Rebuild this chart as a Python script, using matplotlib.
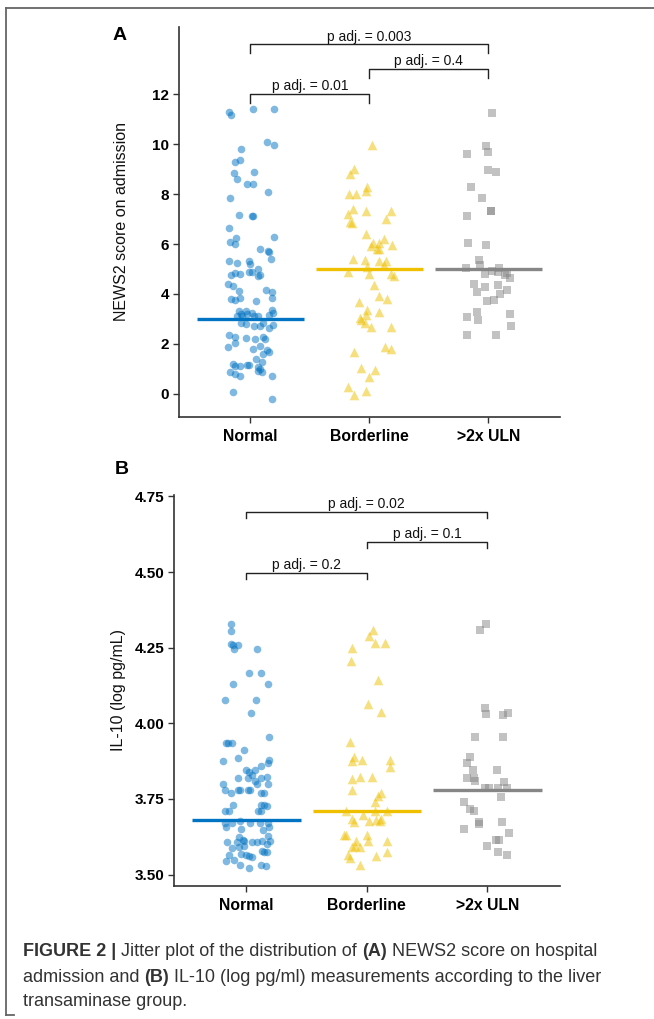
import matplotlib
matplotlib.use("Agg")
import matplotlib.pyplot as plt
from matplotlib.lines import Line2D

plt.rcParams["font.family"] = ["Liberation Sans", "DejaVu Sans"]

groups = ["Normal", "Borderline", ">2x ULN"]
colors = ["#0073C2", "#EFC000", "#868686"]
markers = ["o", "^", "s"]

# --- panel A: NEWS2 score on admission ---
news_normal = [11.27, 11.17, 11.39, 11.39, 10.07, 9.97, 9.81, 9.35, 9.27, 8.84, 8.86, 8.61, 8.4, 8.4,
               8.08, 7.83, 7.15, 7.12, 7.11, 6.64, 6.23, 6.07, 5.99, 6.27, 5.79, 5.71, 5.67, 5.39,
               5.31, 5.25, 5.33, 5.19, 4.99, 4.87, 4.89, 4.75, 4.72, 4.84, 4.81, 4.75, 4.41, 4.31,
               4.16, 4.07, 4.13, 3.81, 3.76, 3.84, 3.85, 3.73, 3.36, 3.25, 3.16, 3.3, 3.3, 3.25,
               3.2, 3.2, 3.1, 3.1, 3.1, 3.1, 2.83, 2.8, 2.72, 2.72, 2.83, 2.64, 2.76, 2.37, 2.28,
               1.89, 2.04, 2.24, 2.21, 2.28, 2.19, 1.81, 1.92, 1.76, 1.6, 1.67, 1.39, 1.29, 1.2,
               1.12, 1.13, 1.16, 1.16, 1.09, 1.01, 0.87, 0.81, 0.72, 0.92, 0.88, 0.73, 0.08, -0.2]
news_normal_jit = [-0.18, -0.16, 0.02, 0.20, 0.14, 0.20, -0.08, -0.09, -0.13, -0.14, 0.03, -0.11,
                   -0.03, 0.02, 0.15, -0.17, -0.10, 0.01, 0.02, -0.18, -0.12, -0.17, -0.13, 0.20,
                   0.08, 0.15, 0.16, 0.17, -0.18, -0.11, -0.01, 0.00, 0.06, -0.01, 0.01, 0.08,
                   0.06, -0.13, -0.09, -0.16, -0.19, -0.15, 0.13, 0.18, -0.10, -0.16, -0.13,
                   -0.09, 0.18, 0.05, 0.18, 0.19, 0.16, -0.10, -0.04, 0.01, -0.08, -0.03, 0.06,
                   -0.07, -0.11, 0.03, -0.08, -0.04, 0.03, 0.08, 0.11, 0.16, 0.19, -0.18, -0.13,
                   -0.19, -0.13, -0.04, 0.04, 0.11, 0.12, 0.02, 0.08, 0.14, 0.11, 0.16, 0.05,
                   0.10, -0.15, -0.13, -0.09, -0.03, -0.01, 0.06, 0.08, -0.17, -0.13, -0.09,
                   0.06, 0.10, 0.18, -0.15, 0.18]
news_border = [9.96, 8.99, 8.79, 8.29, 8.13, 8.01, 8.01, 7.41, 7.2, 6.88, 6.84, 7.31, 7.31, 7.0,
               6.41, 6.21, 6.05, 6.03, 5.93, 5.8, 5.79, 5.95, 5.39, 5.36, 5.33, 5.32, 5.07, 5.15,
               4.87, 4.79, 4.79, 4.73, 4.36, 3.92, 3.79, 3.69, 3.35, 3.29, 3.16, 3.05, 2.95, 2.83,
               2.67, 2.69, 1.69, 1.87, 1.8, 1.05, 0.96, 0.69, 0.27, -0.04, 0.12]
news_border_jit = [0.02, -0.13, -0.16, -0.02, -0.03, -0.17, -0.11, -0.14, -0.18, -0.16, -0.15,
                   -0.03, 0.18, 0.14, -0.03, 0.12, 0.03, 0.08, 0.01, 0.06, 0.08, 0.19, -0.14,
                   -0.04, 0.08, 0.14, -0.02, 0.12, -0.18, 0.0, 0.18, 0.21, 0.04, 0.08, 0.15,
                   -0.09, -0.02, 0.08, -0.03, -0.08, -0.07, -0.04, 0.01, 0.18, -0.13, 0.13, 0.18,
                   -0.07, 0.05, 0.0, -0.18, -0.13, -0.03]
news_uln = [11.24, 9.93, 9.68, 9.61, 8.97, 8.87, 8.27, 7.84, 7.33, 7.33, 7.11, 6.05, 5.97, 5.36,
            5.15, 5.05, 5.03, 4.93, 4.81, 4.89, 4.85, 4.76, 4.63, 4.41, 4.28, 4.35, 4.07, 4.16,
            4.0, 3.71, 3.75, 3.28, 3.08, 2.96, 3.19, 2.72, 2.35, 2.35]
news_uln_jit = [0.03, -0.02, 0.0, -0.18, 0.0, 0.06, -0.15, -0.05, 0.02, 0.02, -0.18, -0.17, -0.02,
                -0.08, -0.07, -0.19, 0.09, 0.03, -0.03, 0.08, 0.16, 0.14, 0.18, -0.12, -0.03,
                0.08, -0.10, 0.16, 0.10, -0.01, 0.05, -0.10, -0.18, -0.09, 0.18, 0.19, -0.18, 0.06]
news_centre = [3, 5, 5]
news_ticks = [0, 2, 4, 6, 8, 10, 12]
news_pairs = [(1, 3, "p adj. = 0.003"), (2, 3, "p adj. = 0.4"), (1, 2, "p adj. = 0.01")]
news_bracket_y = [13.99, 13.0, 12.0]

# --- panel B: IL-10 ---
il_normal = [4.328, 4.305, 4.262, 4.26, 4.246, 4.26, 4.246, 4.166, 4.165, 4.13, 4.13, 4.077, 4.077,
             4.034, 3.934, 3.934, 3.934, 3.954, 3.91, 3.876, 3.886, 3.88, 3.87, 3.858, 3.845, 3.84,
             3.845, 3.83, 3.80, 3.82, 3.818, 3.82, 3.81, 3.824, 3.80, 3.80, 3.78, 3.77, 3.78, 3.78,
             3.78, 3.78, 3.77, 3.77, 3.71, 3.71, 3.73, 3.73, 3.73, 3.727, 3.71, 3.71, 3.671, 3.671,
             3.657, 3.676, 3.671, 3.671, 3.671, 3.657, 3.651, 3.648, 3.608, 3.608, 3.624, 3.615,
             3.61, 3.608, 3.606, 3.61, 3.628, 3.61, 3.60, 3.586, 3.59, 3.594, 3.578, 3.574, 3.574,
             3.569, 3.563, 3.56, 3.557, 3.566, 3.545, 3.547, 3.53, 3.523, 3.53, 3.527]
il_normal_jit = [-0.13, -0.13, -0.13, -0.11, -0.10, -0.07, 0.09, 0.02, 0.12, -0.11, 0.18, -0.18,
                 0.08, 0.04, -0.17, -0.15, -0.12, 0.19, -0.02, -0.19, -0.07, 0.19, 0.18, 0.12,
                 0.0, 0.02, 0.07, 0.05, -0.19, -0.07, 0.01, 0.12, 0.07, 0.17, 0.18, 0.09, -0.18,
                 -0.13, -0.07, -0.05, 0.01, 0.03, 0.12, 0.15, -0.18, -0.14, -0.11, 0.12, 0.15,
                 0.17, 0.10, 0.12, -0.18, -0.12, -0.17, -0.05, 0.03, 0.11, 0.18, 0.19, -0.04,
                 0.14, -0.16, -0.08, -0.06, -0.03, -0.02, 0.05, 0.09, 0.13, 0.18, 0.20, 0.17,
                 -0.12, -0.06, -0.02, 0.13, 0.15, 0.17, -0.04, 0.0, 0.02, 0.05, -0.14, -0.17,
                 -0.10, -0.05, 0.02, 0.12, 0.16]
il_border = [4.307, 4.29, 4.265, 4.265, 4.248, 4.205, 4.143, 4.064, 4.037, 3.938, 3.89, 3.876,
             3.88, 3.877, 3.854, 3.815, 3.823, 3.823, 3.78, 3.76, 3.77, 3.74, 3.71, 3.71, 3.71,
             3.698, 3.683, 3.674, 3.677, 3.68, 3.683, 3.677, 3.63, 3.63, 3.63, 3.61, 3.594, 3.59,
             3.59, 3.61, 3.61, 3.566, 3.555, 3.56, 3.576, 3.533]
il_border_jit = [0.05, 0.02, 0.07, 0.15, -0.12, -0.13, 0.09, 0.01, 0.12, -0.14, -0.11, -0.12,
                 -0.04, 0.19, 0.19, -0.12, -0.06, 0.04, -0.12, 0.09, 0.12, 0.07, -0.17, 0.07, 0.17,
                 -0.03, -0.12, -0.11, 0.02, 0.08, 0.12, 0.11, -0.19, -0.17, 0.0, -0.09, -0.10,
                 -0.12, -0.06, 0.01, 0.17, -0.16, -0.14, 0.08, 0.17, -0.06]
il_uln = [4.327, 4.307, 4.05, 4.03, 4.035, 4.027, 3.955, 3.955, 3.887, 3.867, 3.846, 3.846, 3.82,
          3.82, 3.81, 3.805, 3.785, 3.785, 3.785, 3.785, 3.757, 3.739, 3.716, 3.71, 3.668, 3.672,
          3.672, 3.65, 3.636, 3.613, 3.613, 3.593, 3.576, 3.565]
il_uln_jit = [-0.01, -0.06, -0.02, -0.01, 0.17, 0.13, -0.10, 0.13, -0.14, -0.17, -0.12, 0.08,
              -0.17, -0.11, -0.10, 0.14, -0.02, 0.01, 0.09, 0.16, 0.11, -0.19, -0.14, -0.11,
              -0.07, -0.07, 0.12, -0.19, 0.18, 0.07, 0.10, 0.0, 0.09, 0.16]
il_centre = [3.68, 3.71, 3.78]
il_ticks = [3.50, 3.75, 4.00, 4.25, 4.50, 4.75]
il_pairs = [(1, 3, "p adj. = 0.02"), (2, 3, "p adj. = 0.1"), (1, 2, "p adj. = 0.2")]
il_bracket_y = [4.699, 4.60, 4.498]

W, H = 654, 1019
fig = plt.figure(figsize=(W / 100, H / 100), dpi=100)
fig.patch.set_facecolor("white")


def px_axes(left, top, right, bottom):
    return fig.add_axes([left / W, 1 - bottom / H, (right - left) / W, (bottom - top) / H])


def jitter_panel(ax, values, jits, centres, ticks, tick_fmt, pairs, bracket_y, tip, ylim, ylabel):
    for i, (vals, jit) in enumerate(zip(values, jits)):
        xs = [i + 1 + j for j in jit]
        size = {"o": 30, "^": 48, "s": 30}[markers[i]]
        ax.scatter(xs, vals, s=size, marker=markers[i], color=colors[i], alpha=0.5,
                   linewidths=0, zorder=2)
        ax.plot([i + 1 - 0.45, i + 1 + 0.45], [centres[i], centres[i]], color=colors[i],
                lw=2.4, solid_capstyle="butt", zorder=3)
    for (a, b, lab), y in zip(pairs, bracket_y):
        ax.plot([a, a, b, b], [y - tip, y, y, y - tip], color="#222222", lw=1.0,
                clip_on=False, zorder=4)
        ax.annotate(lab, ((a + b) / 2, y), xytext=(0, 0.5), textcoords="offset points",
                    ha="center", va="bottom", fontsize=10, color="#111111")
    ax.set_xlim(0.4, 3.6)
    ax.set_ylim(*ylim)
    ax.set_xticks([1, 2, 3])
    ax.set_xticklabels(groups, fontsize=11.3, fontweight="bold")
    ax.set_yticks(ticks)
    ax.set_yticklabels([tick_fmt.format(t) for t in ticks], fontsize=11, fontweight="bold")
    for s in ["top", "right"]:
        ax.spines[s].set_visible(False)
    for s in ["left", "bottom"]:
        ax.spines[s].set_color("#333333")
        ax.spines[s].set_linewidth(1.2)
    ax.tick_params(direction="out", length=4, width=1, color="#333333", pad=3)
    ax.tick_params(axis="x", pad=5)
    ax.set_ylabel(ylabel, fontsize=11.5, color="#111111")
    ax.set_facecolor("white")


axA = px_axes(179, 26.5, 179 + 3.2 * 119, 417)
jitter_panel(axA, [news_normal, news_border, news_uln],
             [news_normal_jit, news_border_jit, news_uln_jit], news_centre, news_ticks, "{:d}",
             news_pairs, news_bracket_y, 0.35, (-0.92, 14.7), "NEWS2 score on admission")
axA.yaxis.set_label_coords((129 - 179) / (3.2 * 119), 0.5)

axB = px_axes(174, 494.6, 174 + 3.2 * 120.5, 886)
jitter_panel(axB, [il_normal, il_border, il_uln],
             [il_normal_jit, il_border_jit, il_uln_jit], il_centre, il_ticks, "{:.2f}",
             il_pairs, il_bracket_y, 0.022, (3.462, 4.756), "IL-10 (log pg/mL)")
axB.yaxis.set_label_coords((126 - 174) / (3.2 * 120.5), 0.5)

fig.text(120 / W, 1 - 35 / H, "A", fontsize=14, fontweight="bold", ha="center", va="center")
fig.text(122 / W, 1 - 470 / H, "B", fontsize=14, fontweight="bold", ha="center", va="center")

# frame around the figure panel
frame_kw = dict(color="#666666", lw=1.3, transform=fig.transFigure)
fig.add_artist(Line2D([6 / W, 6 / W], [1 - 8 / H, 1 - 1015 / H], **frame_kw))
fig.add_artist(Line2D([6 / W, 1.0], [1 - 8 / H, 1 - 8 / H], **frame_kw))
fig.add_artist(Line2D([6 / W, 14 / W], [1 - 1015 / H, 1 - 1015 / H], **frame_kw))

# caption with bold runs
caption = [
    [("FIGURE 2 |", "bold"), (" Jitter plot of the distribution of ", "normal"), ("(A)", "bold"),
     (" NEWS2 score on hospital", "normal")],
    [("admission and ", "normal"), ("(B)", "bold"),
     (" IL-10 (log pg/ml) measurements according to the liver", "normal")],
    [("transaminase group.", "normal")],
]
renderer = fig.canvas.get_renderer()


def write_line(runs, y, size, draw=True):
    x = 23
    for txt, wt in runs:
        t = fig.text(x / W, 1 - y / H, txt, fontsize=size, fontweight=wt, color="#333333",
                     ha="left", va="center")
        x += t.get_window_extent(renderer).width
        if not draw:
            t.remove()
    return x - 23


# fit the first caption line to the width it has in the reference
probe = write_line(caption[0], 952, 12, draw=False)
cap_size = 12 * 576 / probe
for k, line in enumerate(caption):
    write_line(line, 952 + 25 * k, cap_size)

fig.savefig("out.png", dpi=100)
